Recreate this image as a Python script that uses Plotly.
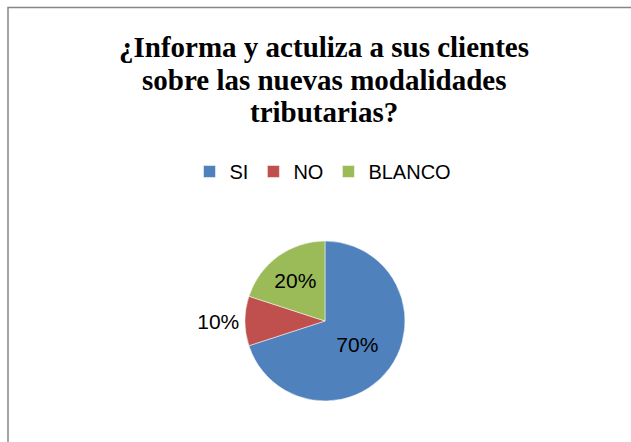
import plotly.graph_objects as go

categories = ["SI", "NO", "BLANCO"]
values = [70, 10, 20]
colors = ["#4F81BD", "#C0504D", "#9BBB59"]
title_lines = ["¿Informa y actuliza a sus clientes", "sobre las nuevas modalidades", "tributarias?"]

W, H = 631, 442
cx, cy, r = 325, 321, 80

fig = go.Figure(go.Pie(
    labels=categories,
    values=values,
    sort=False,
    direction="clockwise",
    rotation=0,
    marker=dict(colors=colors, line=dict(color="white", width=0.5)),
    texttemplate="%{percent:.0%}",
    textposition=["inside", "outside", "inside"],
    insidetextorientation="horizontal",
    textfont=dict(family="Liberation Sans", size=21, color="black"),
    outsidetextfont=dict(family="Liberation Sans", size=21, color="black"),
    domain=dict(x=[(cx - r) / W, (cx + r) / W], y=[(H - cy - r) / H, (H - cy + r) / H]),
    hoverinfo="label+percent",
))

title_y = [47, 80, 112]
annotations = [
    dict(text=t, x=324 / W, y=1 - yy / H, xref="paper", yref="paper",
         xanchor="center", yanchor="middle", showarrow=False,
         font=dict(family="Liberation Serif", size=29, color="black", weight="bold"))
    for t, yy in zip(title_lines, title_y)
]

fig.update_layout(
    width=W, height=H,
    margin=dict(l=0, r=0, t=0, b=0),
    paper_bgcolor="white",
    plot_bgcolor="white",
    annotations=annotations,
    showlegend=True,
    legend=dict(
        orientation="h",
        x=323 / W, xanchor="center",
        y=1 - 152 / H, yanchor="top",
        font=dict(family="Liberation Sans", size=20, color="black"),
        itemwidth=30,
    ),
    shapes=[dict(
        type="rect", xref="paper", yref="paper",
        x0=8 / W, x1=1.02, y0=-0.02, y1=1 - 7.5 / H,
        line=dict(color="#868686", width=1.5),
        fillcolor="rgba(0,0,0,0)",
    )],
)

fig.write_html(
    "out.html",
    config={"displayModeBar": False},
    post_script="document.body.style.margin='0';document.body.style.overflow='hidden';",
)
